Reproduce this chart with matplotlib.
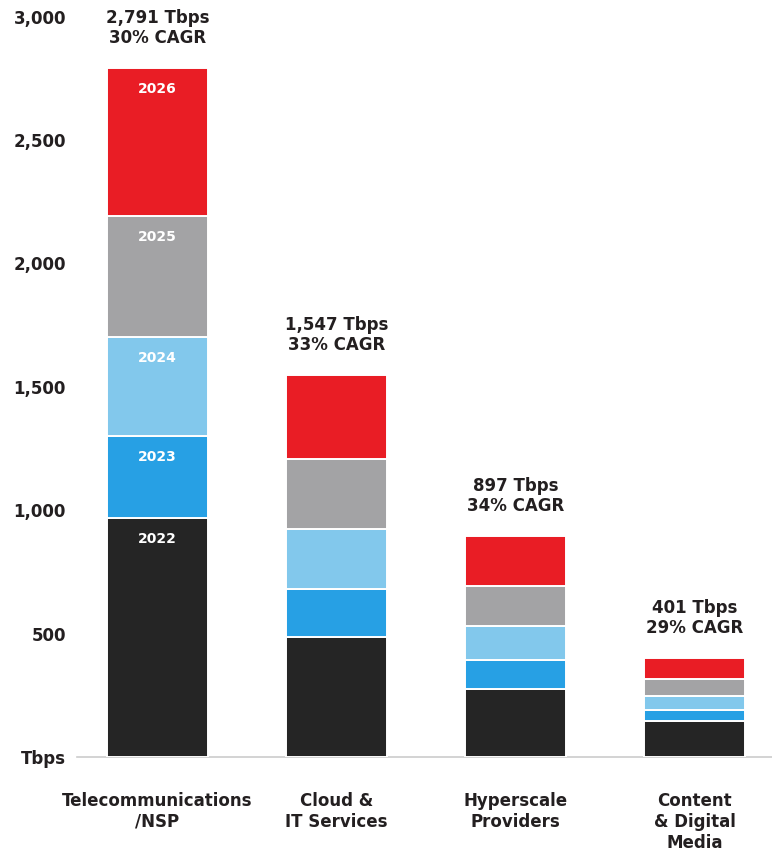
import numpy as np
import matplotlib.pyplot as plt

# bandwidth by segment, Tbps per year (stacked)
categories = ['Telecommunications\n/NSP', 'Cloud &\nIT Services', 'Hyperscale\nProviders', 'Content\n& Digital\nMedia']
years = ['2022', '2023', '2024', '2025', '2026']
v2022 = [968, 486, 275, 144]
v2023 = [332, 194, 117, 48]
v2024 = [401, 244, 137, 56]
v2025 = [490, 282, 162, 68]
v2026 = [600, 341, 206, 85]
totals = [2791, 1547, 897, 401]
cagr = ['30%', '33%', '34%', '29%']

colors = ['#252525', '#27A0E4', '#82C8EC', '#A3A3A5', '#E91D25']
txt = '#231f20'

W, H = 772, 855
fig = plt.figure(figsize=(W / 100, H / 100), dpi=100)
# axes placed in pixel terms: baseline at y=757, bars centred 179px apart
left_px, right_px = 77, 772
bottom_px, top_px = 757, 7
ax = fig.add_axes([left_px / W, (H - bottom_px) / H,
                   (right_px - left_px) / W, (bottom_px - top_px) / H])

x = np.arange(len(categories))
width = 101 / 179
series = [v2022, v2023, v2024, v2025, v2026]
bottom = np.zeros(len(categories))
for yr, vals, c in zip(years, series, colors):
    vals = np.array(vals, dtype=float)
    ax.bar(x, vals, width, bottom=bottom, color=c, edgecolor='white',
           linewidth=1.4, zorder=3)
    # year labels only on the first bar
    ax.annotate(yr, (x[0], bottom[0] + vals[0]), xytext=(0, -15),
                textcoords='offset points', ha='center', va='center',
                color='white', fontsize=10, fontweight='bold', zorder=4)
    bottom += vals

for i, (t, c) in enumerate(zip(totals, cagr)):
    ax.annotate(f'{t:,} Tbps\n{c} CAGR', (x[i], t), xytext=(0, 15),
                textcoords='offset points', ha='center', va='bottom',
                color=txt, fontsize=12, fontweight='bold', linespacing=1.15)

ax.set_xlim(-(157.5 - left_px) / 179, 3 + (right_px - 694.5) / 179)
ax.set_ylim(0, (bottom_px - top_px) / 0.2468)

ax.set_yticks([0, 500, 1000, 1500, 2000, 2500, 3000])
ax.set_yticklabels(['Tbps', '500', '1,000', '1,500', '2,000', '2,500', '3,000'],
                   fontsize=12, fontweight='bold', color=txt)
ax.set_xticks(x)
ax.set_xticklabels(categories, fontsize=12, fontweight='bold', color=txt,
                   linespacing=1.22, va='top')
ax.tick_params(axis='y', length=0, pad=8)
ax.tick_params(axis='x', length=0, pad=25)

for s in ['top', 'right', 'left']:
    ax.spines[s].set_visible(False)
ax.spines['bottom'].set_color('#cccccc')
ax.spines['bottom'].set_linewidth(1.2)

fig.savefig('out.png', dpi=100, facecolor='white')
